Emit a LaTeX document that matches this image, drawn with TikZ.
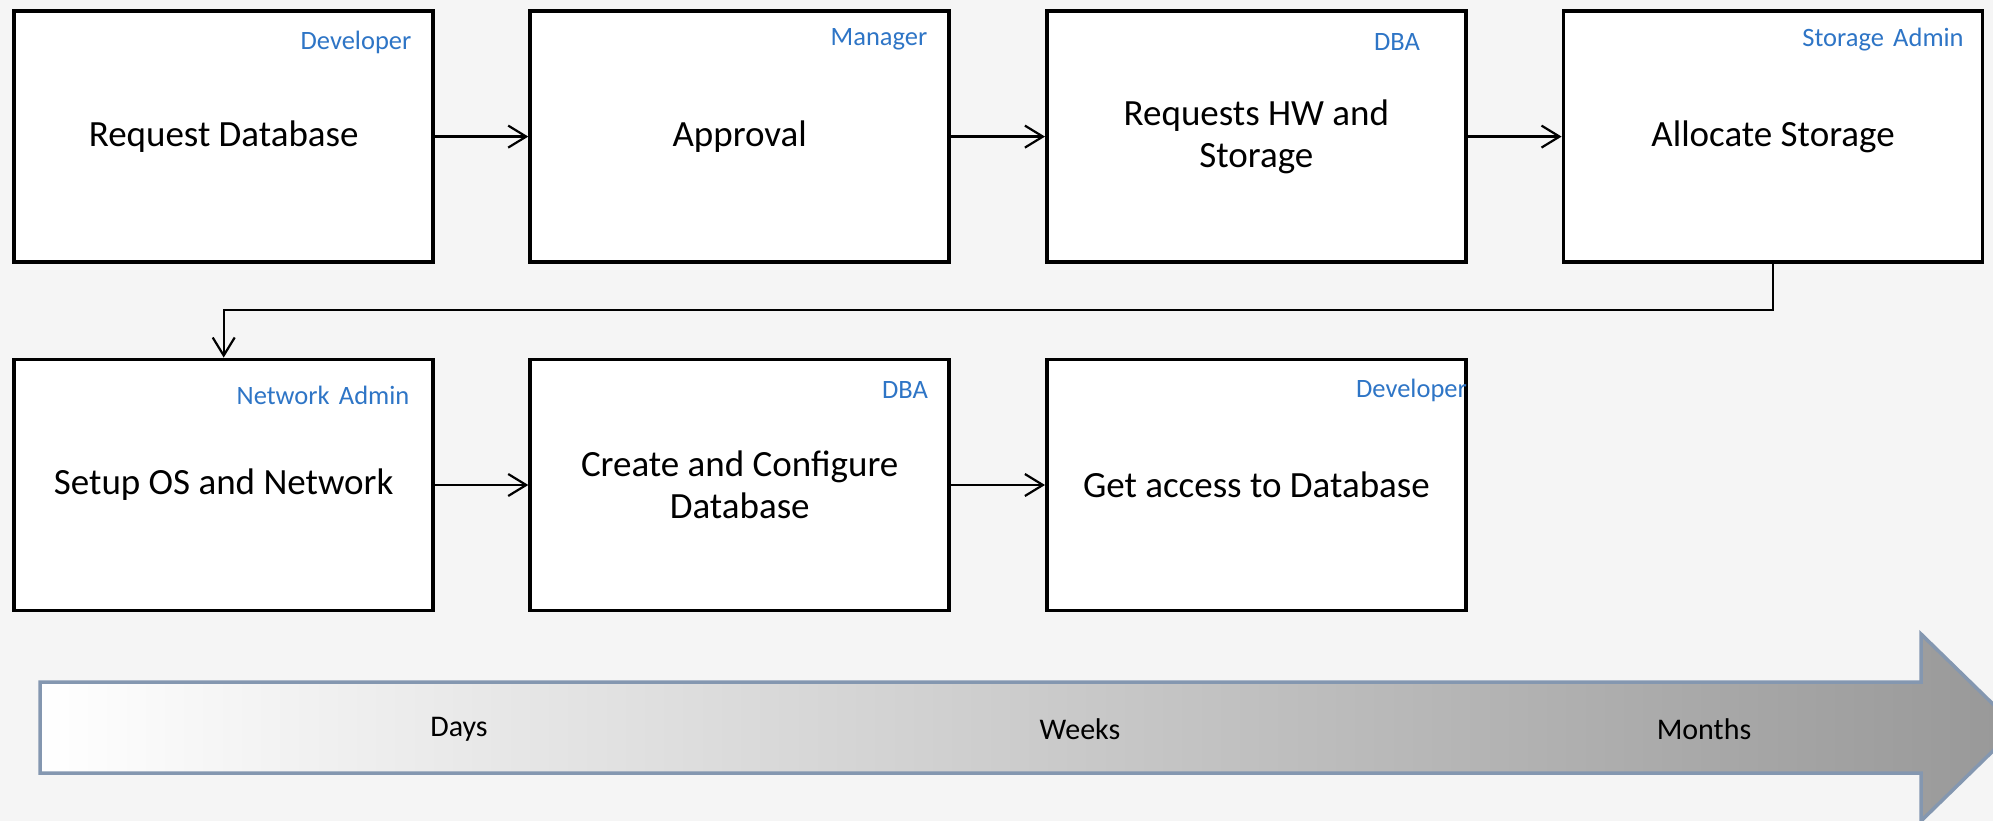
\documentclass[tikz,border=0pt]{standalone}
\usepackage{fontspec}
\setmainfont{Carlito}
\usetikzlibrary{arrows.meta}
\definecolor{bgc}{HTML}{F5F5F5}
\definecolor{rolec}{HTML}{2E75C6}
\definecolor{barc}{HTML}{8497B0}
\definecolor{barend}{HTML}{989898}
\begin{document}
\begin{tikzpicture}[x=1pt,y=-1pt,
  stepbox/.style={draw=black, line width=3.8pt, fill=white,
    minimum width=419pt, minimum height=251pt, inner sep=0pt,
    align=center, font=\fontsize{37}{42}\selectfont},
  role/.style={text=rolec, font=\fontsize{26.5}{30}\selectfont, inner sep=0pt},
  flow/.style={draw=black, line width=2.2pt,
    -{Straight Barb[length=18pt,width=22pt,line width=2.2pt]}},
  scalelabel/.style={font=\fontsize{30}{34}\selectfont, inner sep=0pt}]
% canvas
\fill[bgc] (0,0) rectangle (1993,821);
\useasboundingbox (0,0) rectangle (1993,821);

% first row of steps
\node[stepbox] (b1) at (223.7,136.6) {Request Database};
\node[stepbox] (b2) at (739.7,136.6) {Approval};
\node[stepbox] (b3) at (1256.4,136.6) {Requests HW and\\Storage};
\node[stepbox] (b4) at (1773,136.6) {Allocate Storage};

% second row of steps
\node[stepbox] (b5) at (223.7,485) {Setup OS and Network};
\node[stepbox] (b6) at (739.7,485) {Create and Configure\\Database};
\node[stepbox] (b7) at (1256.4,485) {Get access to Database};

% roles
\node[role] (r1) at (356,42) {Developer};
\node[role] (r2) at (879,39.5) {Manager};
\node[role] (r3) at (1397,42) {DBA};
\node[role] (r4) at (1883,39.5) {Storage\hspace{0.35em}Admin};
\node[role] (r5) at (323,395) {Network\hspace{0.35em}Admin};
\node[role] (r6) at (905,390) {DBA};
\node[role] (r7) at (1411.5,390) {Developer};

% flow connectors
\draw[flow] (b1) -- (b2);
\draw[flow] (b2) -- (b3);
\draw[flow] (b3) -- (b4);
\draw[flow] (b4.south) -- ++(0,46) -| (b5.north);
\draw[flow] (b5) -- (b6);
\draw[flow] (b6) -- (b7);

% time scale arrow
\path[draw=barc, line width=3.5pt, line join=miter,
      left color=white, right color=barend]
  (40,682) -- (1921,682) -- (1921,634) -- (2017,727.5) -- (1921,821)
  -- (1921,773) -- (40,773) -- cycle;
\node[scalelabel] (t1) at (459,729) {Days};
\node[scalelabel] (t2) at (1080,729) {Weeks};
\node[scalelabel] (t3) at (1704,729) {Months};
\end{tikzpicture}
\end{document}
